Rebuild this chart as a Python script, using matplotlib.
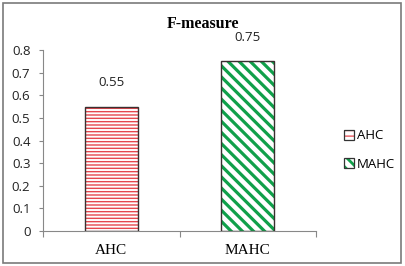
import matplotlib
matplotlib.use("Agg")
import matplotlib.pyplot as plt
from matplotlib.patches import Rectangle, Patch
from matplotlib.legend_handler import HandlerTuple
import matplotlib.colors as mcolors

categories = ["AHC", "MAHC"]
values = [0.55, 0.75]
value_labels = ["0.55", "0.75"]
yticks = [0, 0.1, 0.2, 0.3, 0.4, 0.5, 0.6, 0.7, 0.8]
ytick_labels = ["0", "0.1", "0.2", "0.3", "0.4", "0.5", "0.6", "0.7", "0.8"]
title = "F-measure"

edge_colors = ["#E5474E", "#10A04A"]
hatches = ["-----", "\\\\\\"]
hatch_widths = [1.0, 2.3]
legend_hatch_widths = [0.9, 2.0]
legend_hatches = ["---", "\\\\\\"]


def set_hlw(p, w):
    if hasattr(p, "set_hatch_linewidth"):
        p.set_hatch_linewidth(w)
    else:
        p._hatch_linewidth = w


fig = plt.figure(figsize=(4.06, 2.66), dpi=100)
fig.patch.set_facecolor("white")
fig.add_artist(Rectangle((3/406, 3/266), 398/406, 260/266, transform=fig.transFigure,
                         fill=False, edgecolor="#7a7a7a", linewidth=1.2))

ax = fig.add_axes([43/406, 1 - 231/266, (316-43)/406, (231-50)/266])
x = list(range(len(categories)))
handles = []
for i in x:
    plt.rcParams["hatch.linewidth"] = hatch_widths[i]
    plt.rcParams["hatch.color"] = edge_colors[i]
    b = ax.bar(i, values[i], width=0.39, color="white", edgecolor=edge_colors[i],
               hatch=hatches[i], linewidth=0, zorder=2)
    set_hlw(b[0], hatch_widths[i])
    ax.bar(i, values[i], width=0.39, fill=False, edgecolor="#3a3030",
           linewidth=1.0, zorder=3)
    ax.text(i, values[i] + 0.106, value_labels[i], ha="center", va="center",
            fontsize=9.5, family="Open Sans", color="#222222")
    hp = Patch(facecolor="white", edgecolor=edge_colors[i], hatch=legend_hatches[i], linewidth=0)
    bp = Patch(fill=False, edgecolor="#333333", linewidth=0.9)
    handles.append((hp, bp))

ax.set_xlim(-0.5, 1.5)
ax.set_ylim(0, 0.8)
ax.set_yticks(yticks)
ax.set_yticklabels(ytick_labels, family="Open Sans", fontsize=9.5, color="#222222")
ax.set_xticks([-0.5, 0.5, 1.5])
ax.set_xticklabels([])
ax.set_xticks(x, minor=True)
ax.set_xticklabels(categories, minor=True, family="Liberation Serif", fontsize=11)
ax.tick_params(axis="x", which="minor", length=0, pad=9)
ax.tick_params(axis="x", which="major", length=4, color="#888888", width=0.8)
ax.tick_params(axis="y", length=3, color="#888888", width=0.8, pad=6)
for s in ["top", "right"]:
    ax.spines[s].set_visible(False)
for s in ["left", "bottom"]:
    ax.spines[s].set_color("#888888")
    ax.spines[s].set_linewidth(0.8)

fig.text(203/406, 1 - 24/266, title, ha="center", va="center",
         family="Liberation Serif", fontweight="bold", fontsize=11.5)

leg = fig.legend(handles, categories, loc="center left", bbox_to_anchor=(332/406, 1 - 150/266),
                 frameon=False, prop={"family": "Open Sans", "size": 9.5},
                 handlelength=0.75, handleheight=0.75, handletextpad=0.25, labelspacing=1.15,
                 handler_map={tuple: HandlerTuple(ndivide=1)})

for p in leg.findobj(Rectangle):
    if p.get_hatch():
        ec = mcolors.to_hex(p.get_edgecolor())
        for i in x:
            if ec.lower() == edge_colors[i].lower():
                set_hlw(p, legend_hatch_widths[i])

fig.savefig("out.png", dpi=100)
